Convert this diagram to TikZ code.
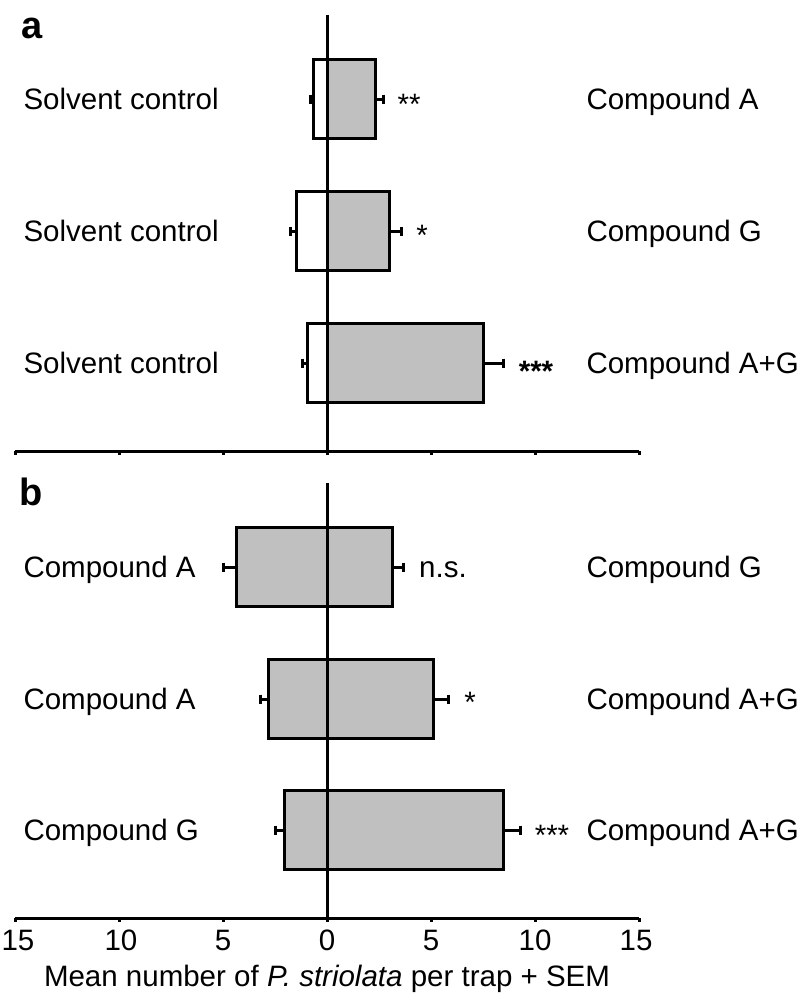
\documentclass[tikz,border=0pt]{standalone}
\usepackage{fontspec}
\setmainfont{Liberation Sans}
\definecolor{barfill}{RGB}{192,192,192}
\begin{document}
\begin{tikzpicture}[x=1pt,y=-1pt,line width=3pt,
  lab/.style={anchor=base west,inner sep=0pt,font=\fontsize{29.5}{34}\selectfont},
  sig/.style={anchor=base,inner sep=0pt,font=\fontsize{29.5}{34}\selectfont},
  ticklab/.style={anchor=base,inner sep=0pt,font=\fontsize{29.5}{34}\selectfont},
  panel/.style={anchor=base west,inner sep=0pt,font=\fontsize{38}{40}\selectfont\bfseries},
  barbox/.style={draw=black,line width=3pt},
  errbar/.style={line width=3pt}]
\useasboundingbox (0,0) rectangle (799,998);
\fill[white] (0,0) rectangle (799,998);

% bars: centre y / left / left error / right / right error / left fill
\foreach \cy/\L/\Le/\R/\Re/\lf in {
  99/313/310/375/383/white,
  231/296/290/389/401/white,
  363/307/302/483/503/white,
  567/236/223/392/403/barfill,
  699/268/260/433/448/barfill,
  830/284/275/503/520/barfill}{
  \draw[barbox,fill=\lf] ({\L},{\cy-39.5}) rectangle (327,{\cy+39.5});
  \draw[barbox,fill=barfill] (327,{\cy-39.5}) rectangle ({\R},{\cy+39.5});
  \draw[errbar] ({\L},{\cy}) -- ({\Le},{\cy});
  \draw[errbar] ({\Le},{\cy-4.5}) -- ({\Le},{\cy+4.5});
  \draw[errbar] ({\R},{\cy}) -- ({\Re},{\cy});
  \draw[errbar] ({\Re},{\cy-4.5}) -- ({\Re},{\cy+4.5});
}

% axes panel a
\coordinate (atop) at (327,15);
\coordinate (abot) at (327,451);
\coordinate (aleft) at (15,451);
\coordinate (aright) at (639,451);
\draw (atop) -- (abot);
\draw (aleft) -- (aright);
\foreach \t in {15,119,223,327,431,535,639}
  \draw (\t,451) -- (\t,455);

% axes panel b
\coordinate (btop) at (327,483);
\coordinate (bbot) at (327,918);
\coordinate (bleft) at (15,918);
\coordinate (bright) at (639,918);
\draw (btop) -- (bbot);
\draw (bleft) -- (bright);
\foreach \t in {15,119,223,327,431,535,639}
  \draw (\t,918) -- (\t,922);

% tick labels
\node[ticklab] (t1) at (18,950) {15};
\node[ticklab] (t2) at (121,950) {10};
\node[ticklab] (t3) at (223,950) {5};
\node[ticklab] (t4) at (327,950) {0};
\node[ticklab] (t5) at (431,950) {5};
\node[ticklab] (t6) at (535,950) {10};
\node[ticklab] (t7) at (636,950) {15};
\node[ticklab] (title) at (327,986) {Mean number of \textit{P. striolata} per trap + SEM};

% panel letters
\node[panel] (pa) at (20,38) {a};
\node[panel] (pb) at (18,505) {b};

% left labels
\node[lab] (l1) at (22,109.5) {Solvent control};
\node[lab] (l2) at (22,241.5) {Solvent control};
\node[lab] (l3) at (22,373.5) {Solvent control};
\node[lab] (l4) at (22,577.5) {Compound A};
\node[lab] (l5) at (22,709.5) {Compound A};
\node[lab] (l6) at (22,840.5) {Compound G};

% right labels
\node[lab] (r1) at (585,109.5) {Compound A};
\node[lab] (r2) at (585,241.5) {Compound G};
\node[lab] (r3) at (585,373.5) {Compound A+G};
\node[lab] (r4) at (585,577.5) {Compound G};
\node[lab] (r5) at (585,709.5) {Compound A+G};
\node[lab] (r6) at (585,840.5) {Compound A+G};

% significance
\node[sig] (s1) at (409,114) {**};
\node[sig] (s2) at (422,245) {*};
\node[sig,font=\fontsize{29.5}{34}\selectfont\bfseries] (s3) at (536,381) {***};
\node[sig] (s4) at (443,577.5) {n.s.};
\node[sig] (s5) at (470,712) {*};
\node[sig] (s6) at (552,845) {***};
\end{tikzpicture}
\end{document}
